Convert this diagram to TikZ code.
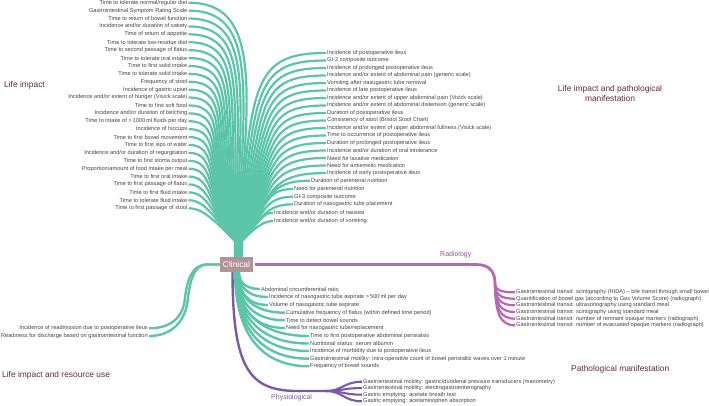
\documentclass[tikz,border=0pt]{standalone}
\usepackage{fontspec}
\setmainfont{Liberation Sans}
\usetikzlibrary{calc}
\definecolor{tealA}{HTML}{5CC5A7}
\definecolor{magA}{HTML}{B866B6}
\definecolor{magT}{HTML}{9E4C9E}
\definecolor{purA}{HTML}{7A5AA8}
\definecolor{maroonA}{HTML}{5E2A3A}
\definecolor{clinA}{HTML}{B39496}
\definecolor{txtA}{HTML}{444444}
\pgfdeclarelayer{bg}
\pgfsetlayers{bg,main}
\begin{document}
\begin{tikzpicture}[x=1pt,y=-1pt,
  lbl/.style={font=\fontsize{5.65}{6}\selectfont, text=txtA, inner sep=1pt},
  cat/.style={font=\fontsize{8.4}{9.8}\selectfont, text=maroonA, inner sep=0pt},
  tl/.style={draw=tealA, line width=2.2pt},
  ml/.style={draw=magA, line width=2.8pt},
  pl/.style={draw=purA, line width=2.4pt},
]
\useasboundingbox (0,0) rectangle (709,405);
\node[fill=clinA, text=white, font=\fontsize{8.4}{9}\selectfont, minimum width=33pt, minimum height=15pt, inner sep=0pt] (C) at (236.5,264.5) {Clinical};

% category labels
\node[cat,anchor=west] (LI) at (4,85) {Life impact};
\node[cat,align=center] (LP) at (610,93.5) {Life impact and pathological\\manifestation};
\node[cat,anchor=west] (LR) at (2,375) {Life impact and resource use};
\node[cat,anchor=west] (PM) at (571,369) {Pathological manifestation};

% left group
\foreach \vt [count=\i] in {
Time to tolerate normal/regular diet,
Gastrointestinal Symptom Rating Scale,
Time to return of bowel function,
Incidence and/or duration of satiety,
Time of return of appetite,
Time to tolerate low-residue diet,
Time to second passage of flatus,
Time to tolerate oral intake,
Time to first solid intake,
Time to tolerate solid intake,
Frequency of stool,
Incidence of gastric upset,
Incidence and/or extent of hunger (Visick scale),
Time to first soft food,
Incidence and/or duration of belching,
Time to intake of >\,1000\,ml fluids per day,
Incidence of hiccups,
Time to first bowel movement,
Time to first sips of water,
Incidence and/or duration of regurgitation,
Time to first stoma output,
Proportion/amount of food intake per meal,
Time to first oral intake,
Time to first passage of flatus,
Time to first fluid intake,
Time to tolerate fluid intake,
Time to first passage of stool}{
  \pgfmathsetmacro\myY{2.7+7.9*(\i-1)}
  \node[lbl,anchor=east] (L\i) at (188.5,\myY) {\vt};
  \pgfmathsetmacro\myT{(\i-1)/26}
  \pgfmathsetmacro\myDx{1-2.5*\myT}
  \pgfmathsetmacro\myRx{237.5-2.5*\myT}
  \pgfmathsetmacro\myPhi{5-50*\myT}
  \pgfmathsetmacro\myR{160-135*\myT}
  \pgfmathsetmacro\myAx{\myRx+\myR*sin(\myPhi)}
  \pgfmathsetmacro\myAy{241-\myR*cos(\myPhi)}
  \pgfmathsetmacro\myBx{258.5-55*\myT}
  \begin{pgfonlayer}{bg}
  \draw[tl] (L\i.east) .. controls (\myBx,\myY) and (\myAx,\myAy) .. (\myRx,241) -- ([xshift=\myDx pt,yshift=-1pt]C.north);
  \end{pgfonlayer}
}

% right group
\foreach \vy/\vx/\vt [count=\j] in {
53/326/{Incidence of postoperative ileus},
60.5/326/{GI-2 composite outcome},
68/326/{Incidence of prolonged postoperative ileus},
75.5/326/{Incidence and/or extent of abdominal pain (generic scale)},
83/326/{Vomiting after nasogastric tube removal},
90.5/326/{Incidence of late postoperative ileus},
98/326/{Incidence and/or extent of upper abdominal pain (Visick scale)},
105.5/326/{Incidence and/or extent of abdominal distension (generic scale)},
113/326/{Duration of postoperative ileus},
120.5/326/{Consistency of stool (Bristol Stool Chart)},
128/326/{Incidence and/or extent of upper abdominal fullness (Visick scale)},
135.5/326/{Time to occurrence of postoperative ileus},
143/326/{Duration of prolonged postoperative ileus},
150.5/326/{Incidence and/or duration of oral intolerance},
158/326/{Need for laxative medication},
165.5/326/{Need for antiemetic medication},
173/326/{Incidence of early postoperative ileus},
180.7/310/{Duration of parenteral nutrition},
189/293/{Need for parenteral nutrition},
196.7/293/{GI-3 composite outcome},
204.3/293/{Duration of nasogastric tube placement},
212.7/273/{Incidence and/or duration of nausea},
221/273/{Incidence and/or duration of vomiting}}{
  \node[lbl,anchor=west] (R\j) at (\vx,\vy) {\vt};
  \pgfmathsetmacro\myS{(\j-1)/22}
  \pgfmathsetmacro\myDx{3+2.5*\myS}
  \pgfmathsetmacro\myRx{239.5+2.5*\myS}
  \pgfmathsetmacro\myPhi{4+40*\myS}
  \pgfmathsetmacro\myR{160-142*\myS}
  \pgfmathsetmacro\myAx{\myRx+\myR*sin(\myPhi)}
  \pgfmathsetmacro\myAy{241-\myR*cos(\myPhi)}
  \pgfmathsetmacro\myBx{\myRx+15+0.2*\myS*(\vx-\myRx)}
  \begin{pgfonlayer}{bg}
  \draw[tl] ([xshift=\myDx pt,yshift=-1pt]C.north) -- (\myRx,241) .. controls (\myAx,\myAy) and (\myBx,\vy) .. (R\j.west);
  \end{pgfonlayer}
}

% purple physiological (drawn first, under teal)
\coordinate (pj) at (326,391);
\node[font=\fontsize{7}{8}\selectfont, text=purA, anchor=west, inner sep=0pt] (Phy) at (271,397.7) {Physiological};
\begin{pgfonlayer}{bg}
\draw[pl] ([xshift=-4pt,yshift=1pt]C.south) .. controls (232.5,370) and (250,391) .. (298,391) -- (pj);
\end{pgfonlayer}
\foreach \vy/\vt [count=\k] in {
381.7/{Gastrointestinal motility: gastric/duodenal pressure transducers (manometry)},
388/{Gastrointestinal motility: electrogastroenterography},
394.7/{Gastric emptying: acetate breath test},
401.3/{Gastric emptying: acetaminophen absorption}}{
  \node[lbl,anchor=west] (Ph\k) at (362,\vy) {\vt};
  \begin{pgfonlayer}{bg}
  \draw[pl,line width=2.1pt] (pj) .. controls (342,391) and (344,\vy) .. (Ph\k.west);
  \end{pgfonlayer}
}

% lower teal group
\foreach \vy/\vx/\vt [count=\k] in {
289/260/{Abdominal circumferential ratio},
297/268/{Incidence of nasogastric tube aspirate >\,500\,ml per day},
305/268/{Volume of nasogastric tube aspirate},
312.7/285/{Cumulative frequency of flatus (within defined time period)},
320.3/285/{Time to detect bowel sounds},
328/285/{Need for nasogastric tube/replacement},
336/309/{Time to first postoperative abdominal peristalsis},
343.5/309/{Nutritional status: serum albumin},
351/309/{Incidence of morbidity due to postoperative ileus},
358.7/309/{Gastrointestinal motility: intra-operative count of bowel peristaltic waves over 1 minute},
366.3/309/{Frequency of bowel sounds}}{
  \node[lbl,anchor=west] (P\k) at (\vx,\vy) {\vt};
  \pgfmathsetmacro\myDx{2.5-0.4*(\k-1)}
  \pgfmathsetmacro\myTx{236.5+\myDx}
  \pgfmathsetmacro\myCya{272+0.65*(\vy-272)}
  \pgfmathsetmacro\myCxb{\myTx+0.35*(\vx-\myTx)}
  \begin{pgfonlayer}{bg}
  \draw[tl,line width=2.4pt] ([xshift=\myDx pt,yshift=1pt]C.south) .. controls (\myTx,\myCya) and (\myCxb,\vy) .. (P\k.west);
  \end{pgfonlayer}
}

% radiology
\node[font=\fontsize{7}{8}\selectfont, text=magT, anchor=west, inner sep=0pt] (Rad) at (440,255) {Radiology};
\coordinate (rj) at (476,264.5);
\coordinate (rk) at (495,284);
\begin{pgfonlayer}{bg}
\draw[ml] ([xshift=2pt]C.east) -- (rj) .. controls (490,264.5) and (495,272) .. (rk);
\end{pgfonlayer}
\foreach \vy/\vt [count=\k] in {
292.3/{Gastrointestinal transit: scintigraphy (HIDA) – bile transit through small bowel},
298.7/{Quantification of bowel gas (according to Gas Volume Score) (radiograph)},
305.3/{Gastrointestinal transit: ultrasonography using standard meal},
312/{Gastrointestinal transit: scintigraphy using standard meal},
318.7/{Gastrointestinal transit: number of remnant opaque markers (radiograph)},
325.3/{Gastrointestinal transit: number of evacuated opaque markers (radiograph)}}{
  \node[lbl,anchor=west] (Q\k) at (515,\vy) {\vt};
  \pgfmathsetmacro\myCy{284+0.7*(\vy-284)}
  \begin{pgfonlayer}{bg}
  \draw[ml,line width=2.2pt] (rk) .. controls (495.3,\myCy) and (500,\vy) .. (Q\k.west);
  \end{pgfonlayer}
}

% life impact and resource use
\node[lbl,anchor=east] (RU1) at (149,328.3) {Incidence of readmission due to postoperative ileus};
\node[lbl,anchor=east] (RU2) at (149,336) {Readiness for discharge based on gastrointestinal function};
\coordinate (ruj) at (207,264.5);
\begin{pgfonlayer}{bg}
\draw[tl,line width=2.4pt] (RU1.east) .. controls (168,328.3) and (183,320) .. (185,298) .. controls (187,280) and (192,264.5) .. (ruj) -- (C.west);
\draw[tl,line width=2.4pt] (RU2.east) .. controls (171,336) and (186,322) .. (188,298) .. controls (190,281) and (194,264.5) .. (ruj) -- (C.west);
\end{pgfonlayer}
\end{tikzpicture}
\end{document}
